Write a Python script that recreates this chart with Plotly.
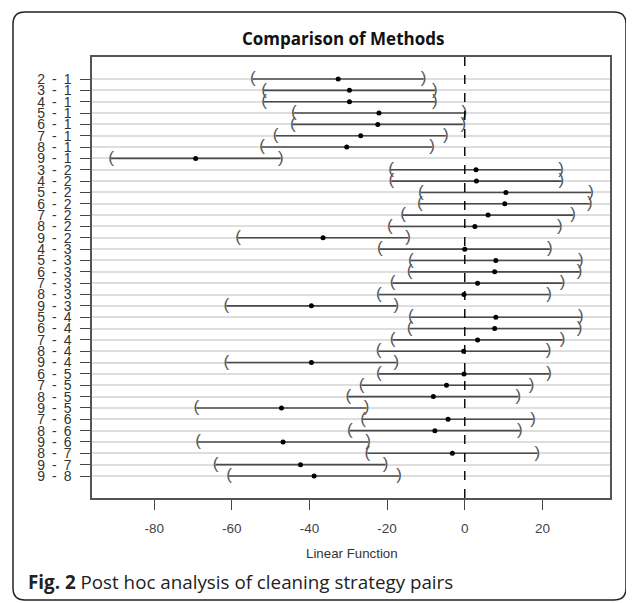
import plotly.graph_objects as go

labels = ["2 - 1", "3 - 1", "4 - 1", "5 - 1", "6 - 1", "7 - 1", "8 - 1", "9 - 1",
          "3 - 2", "4 - 2", "5 - 2", "6 - 2", "7 - 2", "8 - 2", "9 - 2",
          "4 - 3", "5 - 3", "6 - 3", "7 - 3", "8 - 3", "9 - 3",
          "5 - 4", "6 - 4", "7 - 4", "8 - 4", "9 - 4",
          "6 - 5", "7 - 5", "8 - 5", "9 - 5",
          "7 - 6", "8 - 6", "9 - 6",
          "8 - 7", "9 - 7",
          "9 - 8"]
diff = [-32.6, -29.7, -29.7, -22.1, -22.4, -26.8, -30.4, -69.3,
        2.9, 3.0, 10.6, 10.3, 6.0, 2.6, -36.5,
        0.0, 8.0, 7.7, 3.3, -0.2, -39.5,
        8.0, 7.7, 3.3, -0.3, -39.5,
        -0.2, -4.7, -8.1, -47.2,
        -4.3, -7.7, -46.8,
        -3.2, -42.3,
        -38.8]
lwr = [-54.6, -51.7, -51.7, -44.0, -44.3, -48.7, -52.2, -91.1,
       -19.0, -18.9, -11.3, -11.6, -15.9, -19.3, -58.4,
       -21.9, -13.9, -14.2, -18.6, -22.1, -61.4,
       -13.9, -14.2, -18.6, -22.2, -61.4,
       -22.1, -26.6, -30.0, -69.1,
       -26.2, -29.6, -68.7,
       -25.1, -64.2,
       -60.7]
upr = [-10.6, -7.7, -7.7, -0.1, -0.4, -4.9, -8.4, -47.4,
       24.8, 24.9, 32.5, 32.2, 27.9, 24.5, -14.6,
       21.9, 29.9, 29.6, 25.2, 21.7, -17.6,
       29.9, 29.6, 25.2, 21.6, -17.6,
       21.7, 17.2, 13.8, -25.3,
       17.6, 14.2, -24.9,
       18.7, -20.4,
       -16.9]
xticks = [-80, -60, -40, -20, 0, 20]

n = len(labels)
rows = list(range(n))

# page body has an 8px margin: work in reference pixels, shifted by OFF
OFF = 8
W, H = 624, 594
L, R, T, B = 92 - OFF, 610 - OFF, 57 - OFF, 498 - OFF
PW, PH = R - L, B - T


def px(x):
    return (x - OFF - L) / PW


def py(y):
    return (B - (y - OFF)) / PH


fig = go.Figure()

xs, ys = [], []
for i in rows:
    xs += [lwr[i], upr[i], None]
    ys += [i, i, None]
fig.add_trace(go.Scatter(x=xs, y=ys, mode="lines",
                         line=dict(color="#4a4a4a", width=1.6),
                         hoverinfo="skip", showlegend=False))
fig.add_trace(go.Scatter(x=lwr, y=rows, mode="text", text=["("] * n,
                         textfont=dict(family="Liberation Sans", size=17, color="#555555"),
                         textposition="middle center", hoverinfo="skip", showlegend=False))
fig.add_trace(go.Scatter(x=upr, y=rows, mode="text", text=[")"] * n,
                         textfont=dict(family="Liberation Sans", size=17, color="#555555"),
                         textposition="middle center", hoverinfo="skip", showlegend=False))
fig.add_trace(go.Scatter(x=diff, y=rows, mode="markers",
                         marker=dict(color="black", size=5),
                         showlegend=False))

fig.add_shape(type="line", xref="x", yref="paper", x0=0, x1=0, y0=0, y1=1,
              line=dict(color="black", width=1.4, dash="dash"))

# outer rounded frame (reference pixel coords)
x0, x1, y0, y1, r = 13, 626, 12, 600, 12
path = (f"M {px(x0 + r)} {py(y0)} L {px(x1 - r)} {py(y0)} "
        f"Q {px(x1)} {py(y0)} {px(x1)} {py(y0 + r)} "
        f"L {px(x1)} {py(y1 - r)} Q {px(x1)} {py(y1)} {px(x1 - r)} {py(y1)} "
        f"L {px(x0 + r)} {py(y1)} Q {px(x0)} {py(y1)} {px(x0)} {py(y1 - r)} "
        f"L {px(x0)} {py(y0 + r)} Q {px(x0)} {py(y0)} {px(x0 + r)} {py(y0)} Z")
fig.add_shape(type="path", xref="paper", yref="paper", path=path,
              line=dict(color="#222222", width=1.5))

fig.add_annotation(text="Comparison of Methods", xref="paper", yref="paper",
                   x=px(343), y=py(38), xanchor="center", yanchor="middle",
                   showarrow=False,
                   font=dict(family="Open Sans", size=17, color="#111111", weight="bold"))
fig.add_annotation(text="<b>Fig. 2</b> Post hoc analysis of cleaning strategy pairs",
                   xref="paper", yref="paper", x=px(26), y=py(582),
                   xanchor="left", yanchor="middle", showarrow=False,
                   font=dict(family="Open Sans", size=18.8, color="#222222"))
fig.add_annotation(text="Linear Function", xref="paper", yref="paper",
                   x=px(352), y=py(553), xanchor="center", yanchor="middle",
                   showarrow=False,
                   font=dict(family="Liberation Sans", size=13.3, color="#333333"))

tick_text = [s.replace(" ", "\u2002") for s in labels]
xtick_text = [str(v) for v in xticks]

fig.update_layout(
    width=W, height=H,
    margin=dict(l=L, r=W - R, t=T, b=H - B, autoexpand=False),
    paper_bgcolor="white", plot_bgcolor="white",
    xaxis=dict(range=[-96.0, 37.4], tickvals=xticks, ticktext=xtick_text,
               ticks="outside", ticklen=10,
               tickcolor="#444444", tickwidth=1.3,
               showgrid=False, zeroline=False,
               showline=True, linecolor="#555555", linewidth=1.5, mirror=True,
               ticklabelstandoff=7,
               tickfont=dict(family="Liberation Sans", size=13.5, color="#444444")),
    yaxis=dict(range=[36.94, -1.94], tickvals=rows, ticktext=tick_text, ticks="outside",
               ticklen=10, tickcolor="#444444", tickwidth=1.3,
               showgrid=True, gridcolor="#dedede", gridwidth=2, zeroline=False,
               showline=True, linecolor="#555555", linewidth=1.5, mirror=True,
               ticklabelstandoff=6,
               tickfont=dict(family="Liberation Sans", size=14, color="#333333")),
)

fig.write_html("out.html")
